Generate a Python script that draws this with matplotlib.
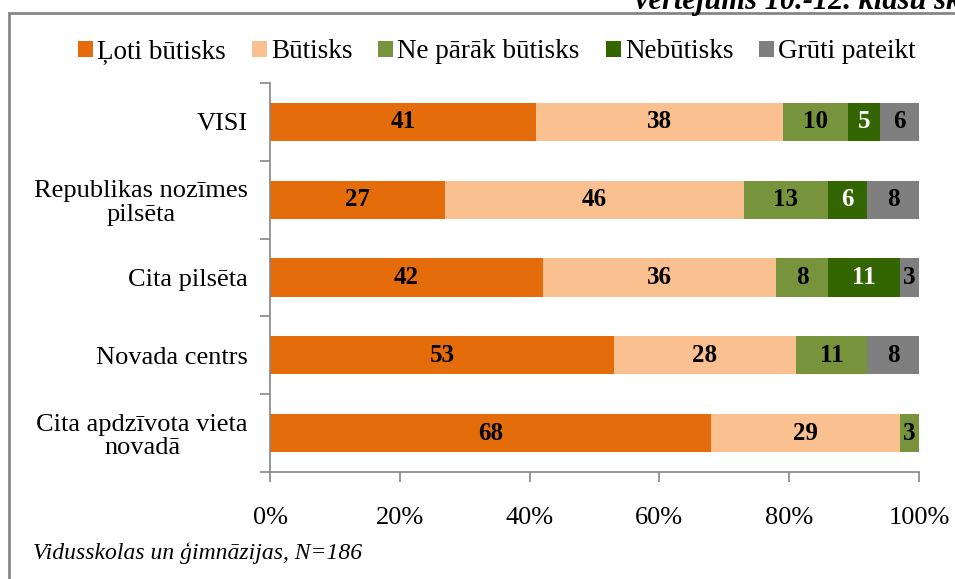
import matplotlib.pyplot as plt
from matplotlib.patches import Rectangle
import numpy as np

plt.rcParams['font.family'] = ['Liberation Serif', 'DejaVu Serif']

# ---------------------------------------------------------------
# Data
# ---------------------------------------------------------------
categories = ['VISI', 'Republikas nozīmes\npilsēta', 'Cita pilsēta',
              'Novada centrs', 'Cita apdzīvota vieta\nnovadā']
series = ['Ļoti būtisks', 'Būtisks', 'Ne pārāk būtisks', 'Nebūtisks', 'Grūti pateikt']
loti = [41, 27, 42, 53, 68]
butisks = [38, 46, 36, 28, 29]
ne_parak = [10, 13, 8, 11, 3]
nebutisks = [5, 6, 11, 0, 0]
gruti = [6, 8, 3, 8, 0]
values = [loti, butisks, ne_parak, nebutisks, gruti]

colors = ['#E46C0A', '#FAC090', '#77933C', '#336600', '#7F7F7F']
txt_col = ['black', 'black', 'black', 'white', 'black']

xticks = [0, 20, 40, 60, 80, 100]
xticklabels = ['0%', '20%', '40%', '60%', '80%', '100%']

title = 'vērtējums 10.-12. klašu skolēniem'
note = 'Vidusskolas un ģimnāzijas, N=186'

# ---------------------------------------------------------------
# Figure
# ---------------------------------------------------------------
W, H = 955, 579
fig = plt.figure(figsize=(W / 100, H / 100), dpi=100)
ax = fig.add_axes([270 / W, 1 - 472 / H, 649 / W, 389 / H])

y = np.arange(len(categories))[::-1]
left = np.zeros(len(categories))
for vals, name, c, tc in zip(values, series, colors, txt_col):
    vals = np.array(vals, dtype=float)
    ax.barh(y, vals, left=left, height=0.49, color=c, label=name)
    for yi, l, v in zip(y, left, vals):
        if v > 0:
            ax.text(l + v / 2, yi, '%d' % v, ha='center', va='center',
                    fontsize=18, fontweight='bold', color=tc)
    left += vals

ax.set_xlim(0, 100)
ax.set_ylim(-0.5, len(categories) - 0.5)
ax.set_xticks(xticks)
ax.set_xticklabels(xticklabels, fontsize=19)
ax.set_yticks(y)
ax.set_yticklabels(categories, fontsize=19, multialignment='center',
                   linespacing=1.1)
ax.set_yticks(np.arange(len(categories) + 1) - 0.5, minor=True)
ax.tick_params(axis='y', which='major', length=0, pad=16)
ax.tick_params(axis='y', which='minor', length=7, color='#868686', width=1.2)
ax.tick_params(axis='x', length=7, color='#868686', width=1.2, pad=18)
for s in ['top', 'right']:
    ax.spines[s].set_visible(False)
for s in ['left', 'bottom']:
    ax.spines[s].set_color('#868686')
    ax.spines[s].set_linewidth(1.2)

fig.legend(loc='center', bbox_to_anchor=(497 / W, 1 - 52 / H), ncol=5,
           frameon=False, fontsize=19.5, handlelength=0.56, handleheight=0.56,
           handletextpad=0.15, columnspacing=0.95)

# outer frame of the chart area
fig.patches.append(Rectangle((9 / W, -0.1), 1.2, 1 - 13 / H + 0.1,
                             transform=fig.transFigure, fill=False,
                             edgecolor='#868686', linewidth=2))

# title cut off at the top edge
fig.text(635 / W, 1 - 9 / H, title, ha='left', va='baseline',
         fontsize=22, fontweight='bold', fontstyle='italic')

fig.text(33 / W, 1 - 553 / H, note, ha='left', va='center',
         fontsize=17, fontstyle='italic')

fig.savefig('out.png', dpi=100)
